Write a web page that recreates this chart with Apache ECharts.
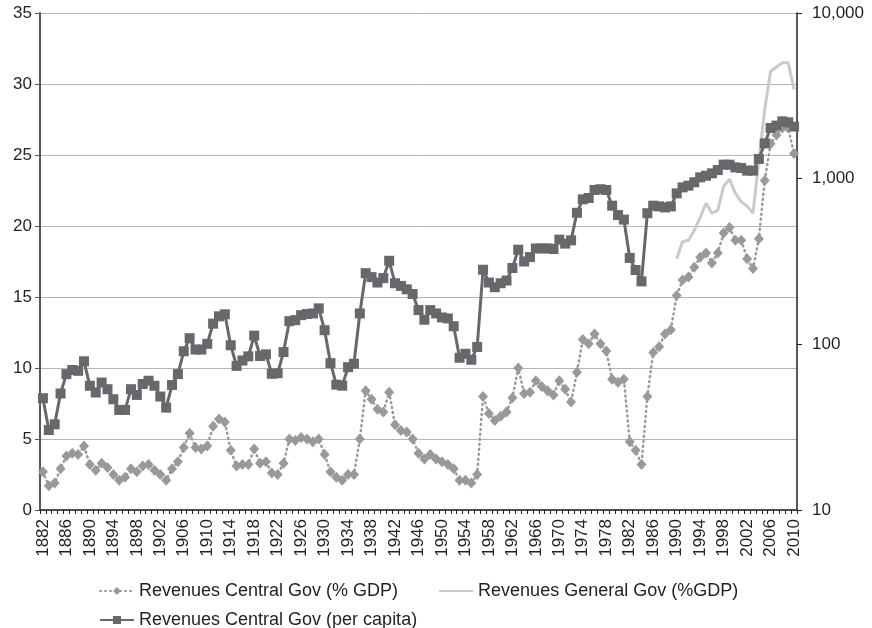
<!DOCTYPE html>
<html>
<head>
<meta charset="utf-8">
<script src="https://cdn.jsdelivr.net/npm/echarts@6/dist/echarts.min.js"></script>
<style>
  html, body { margin: 0; padding: 0; background: #fff; }
  #main { width: 872px; height: 628px; }
</style>
</head>
<body>
<div id="main"></div>
<script>
// years 1882..2010
var years = [];
for (var y = 1882; y <= 2010; y++) years.push(String(y));

// Revenues Central Gov (% GDP), left axis
var centralGdp = [
  2.7, 1.7, 1.9, 2.9, 3.8, 4.0, 3.9, 4.5, 3.2, 2.8,
  3.3, 3.0, 2.5, 2.1, 2.3, 2.9, 2.7, 3.1, 3.2, 2.8,
  2.5, 2.1, 2.9, 3.4, 4.4, 5.4, 4.4, 4.3, 4.5, 5.9,
  6.4, 6.2, 4.2, 3.1, 3.2, 3.2, 4.3, 3.3, 3.4, 2.6,
  2.5, 3.3, 5.0, 4.9, 5.1, 5.0, 4.8, 5.0, 3.9, 2.7,
  2.3, 2.1, 2.5, 2.5, 5.0, 8.4, 7.8, 7.1, 6.9, 8.3,
  6.0, 5.6, 5.5, 5.0, 4.0, 3.6, 3.9, 3.6, 3.4, 3.2,
  2.9, 2.1, 2.1, 1.9, 2.5, 8.0, 6.8, 6.3, 6.6, 6.9,
  7.9, 10.0, 8.2, 8.3, 9.1, 8.7, 8.4, 8.1, 9.1, 8.5,
  7.6, 9.7, 12.0, 11.7, 12.4, 11.7, 11.2, 9.2, 9.0, 9.2,
  4.8, 4.2, 3.2, 8.0, 11.1, 11.5, 12.4, 12.7, 15.1, 16.2,
  16.4, 17.1, 17.8, 18.1, 17.4, 18.1, 19.5, 19.9, 19.0, 19.0,
  17.7, 17.0, 19.1, 23.2, 25.8, 26.4, 26.9, 26.9, 25.1
];

// Revenues General Gov (%GDP), left axis, 1990..2010
var generalStart = 1990;
var generalGdp = [
  17.7, 18.9, 19.0, 19.7, 20.6, 21.6, 20.9, 21.1, 22.8, 23.3,
  22.3, 21.7, 21.4, 20.9, 24.6, 28.2, 30.9, 31.2, 31.5, 31.5,
  29.6
];

// Revenues Central Gov (per capita), right log axis
var perCapita = [
  47.3, 30.4, 32.9, 50.5, 66.1, 70.0, 69.2, 79.0, 56.2, 51.2,
  58.8, 53.6, 46.6, 40.2, 40.2, 53.6, 49.5, 57.6, 60.3, 56.2,
  48.4, 41.5, 56.8, 66.1, 90.8, 108.9, 93.0, 93.0, 100.7, 133.3,
  147.6, 151.8, 98.7, 74.1, 79.9, 84.6, 112.9, 85.0, 87.0, 66.4,
  66.9, 89.8, 138.0, 140.0, 150.0, 152.4, 153.6, 164.9, 121.7, 77.0,
  57.1, 56.3, 72.8, 76.4, 153.6, 269.0, 254.5, 236.1, 251.0, 319.4,
  233.8, 225.2, 214.8, 201.2, 161.0, 140.8, 161.0, 153.6, 145.3, 143.3,
  128.6, 83.0, 87.7, 80.7, 96.4, 282.0, 236.1, 221.3, 233.8, 242.7,
  288.8, 372.5, 316.2, 336.2, 379.2, 379.2, 379.2, 376.2, 428.5, 405.5,
  424.4, 622.3, 750.5, 764.1, 855.0, 863.6, 855.0, 686.9, 603.0, 566.2,
  332.2, 280.9, 239.9, 618.6, 686.9, 680.1, 670.8, 680.1, 815.5, 885.9,
  907.2, 951.2, 1019, 1042, 1077, 1127, 1215, 1215, 1170, 1159,
  1118, 1118, 1315, 1633, 2022, 2091, 2218, 2188, 2062
];

var leftTicks = { min: 0, max: 35, interval: 5 };
var rightTicks = { min: 10, max: 10000 };

var generalSeries = years.map(function (yr) {
  var i = Number(yr) - generalStart;
  return i >= 0 && i < generalGdp.length ? generalGdp[i] : null;
});

var font = 'Liberation Sans';
var textColor = '#231f20';

var chart = echarts.init(document.getElementById('main'));
chart.setOption({
  animation: false,
  textStyle: { fontFamily: font },
  grid: { left: 40, right: 75, top: 13, bottom: 118, containLabel: false },
  legend: [
    {
      left: 94, top: 577,
      itemWidth: 34, itemHeight: 10, itemGap: 40,
      textStyle: { fontSize: 18, color: textColor, fontFamily: font },
      data: [
        'Revenues Central Gov (% GDP)',
        { name: 'Revenues General Gov (%GDP)', itemStyle: { color: 'rgba(0,0,0,0)', borderWidth: 0 } }
      ]
    },
    {
      left: 94, top: 606,
      itemWidth: 34, itemHeight: 10,
      textStyle: { fontSize: 18, color: textColor, fontFamily: font },
      data: ['Revenues Central Gov (per capita)']
    }
  ],
  xAxis: {
    type: 'category',
    data: years,
    boundaryGap: true,
    axisLine: { lineStyle: { color: '#231f20', width: 1.5 } },
    axisTick: { show: true, interval: 0, length: 4, lineStyle: { color: '#231f20' } },
    axisLabel: {
      interval: 3, rotate: 90, fontSize: 17, color: textColor, margin: 9, fontFamily: font
    },
    splitLine: { show: false }
  },
  yAxis: [
    {
      type: 'value',
      min: leftTicks.min, max: leftTicks.max, interval: leftTicks.interval,
      axisLine: { show: true, lineStyle: { color: '#58595b', width: 2 } },
      axisTick: { show: true, length: 5, lineStyle: { color: '#58595b' } },
      axisLabel: { fontSize: 17, color: textColor, margin: 8, fontFamily: font },
      splitLine: { show: true, lineStyle: { color: '#b5b5b5', width: 1 } }
    },
    {
      type: 'log',
      logBase: 10,
      min: rightTicks.min, max: rightTicks.max,
      position: 'right',
      axisLine: { show: true, lineStyle: { color: '#231f20', width: 1.5 } },
      axisTick: { show: true, length: 5, lineStyle: { color: '#231f20' } },
      axisLabel: {
        fontSize: 17, color: textColor, margin: 15, fontFamily: font,
        formatter: function (v) { return Math.round(v).toLocaleString('en-US'); }
      },
      splitLine: { show: false }
    }
  ],
  series: [
    {
      name: 'Revenues Central Gov (% GDP)',
      type: 'line',
      yAxisIndex: 0,
      data: centralGdp,
      symbol: 'diamond',
      symbolSize: [10, 11],
      showAllSymbol: true,
      itemStyle: { color: '#98999c' },
      lineStyle: { color: '#98999c', width: 2.5, type: [1, 4], cap: 'round' },
      z: 2
    },
    {
      name: 'Revenues General Gov (%GDP)',
      type: 'line',
      yAxisIndex: 0,
      data: generalSeries,
      symbol: 'none',
      itemStyle: { color: '#c9cacc' },
      lineStyle: { color: '#c9cacc', width: 3 },
      z: 1
    },
    {
      name: 'Revenues Central Gov (per capita)',
      type: 'line',
      yAxisIndex: 1,
      data: perCapita,
      symbol: 'rect',
      symbolSize: 10,
      showAllSymbol: true,
      itemStyle: { color: '#67686b' },
      lineStyle: { color: '#67686b', width: 3 },
      z: 3
    }
  ]
});
</script>
</body>
</html>
